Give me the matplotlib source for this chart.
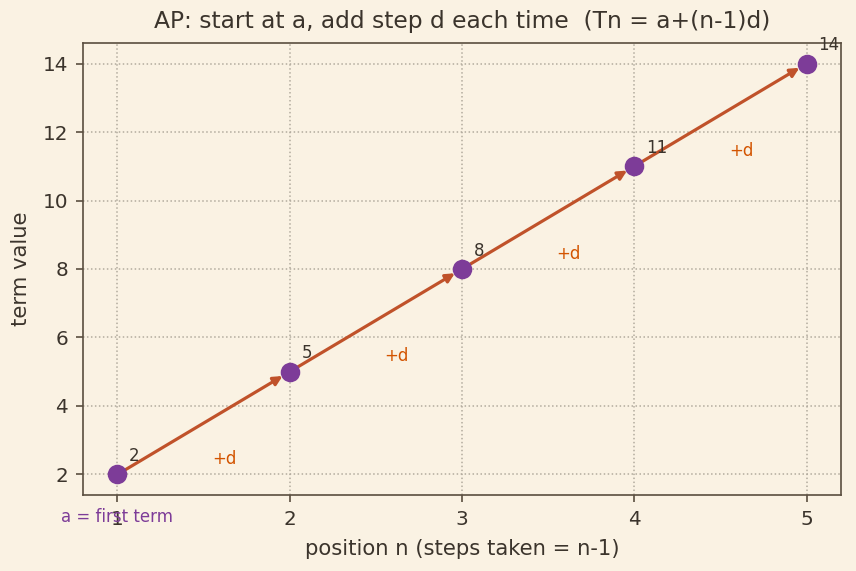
import matplotlib
matplotlib.use("Agg")
import matplotlib.pyplot as plt
import numpy as np

# AP data
a = 2
d = 3
n = [1, 2, 3, 4, 5]
terms = [2, 5, 8, 11, 14]

bg = "#faf2e3"
ink = "#3b342c"
purple = "#7d3c98"
orange = "#d35400"
line_col = "#c0522a"

plt.rcParams['font.family'] = ['DejaVu Sans']
fig, ax = plt.subplots(figsize=(856 / 120, 571 / 120), dpi=120)
fig.patch.set_facecolor(bg)
ax.set_facecolor(bg)

# arrows from each term to the next
for i in range(len(n) - 1):
    ax.annotate("", xy=(n[i + 1], terms[i + 1]), xytext=(n[i], terms[i]),
                arrowprops=dict(arrowstyle="-|>", color=line_col, lw=1.9,
                                mutation_scale=11, shrinkA=0, shrinkB=5),
                zorder=2)
    mx = (n[i] + n[i + 1]) / 2
    my = (terms[i] + terms[i + 1]) / 2
    ax.text(mx + 0.12, my - 1.05, "+d", color=orange, fontsize=10,
            ha="center", va="center")

ax.scatter(n, terms, s=115, color=purple, zorder=3)

for x, y in zip(n, terms):
    ax.annotate(str(y), (x, y), xytext=(7, 8), textcoords="offset points",
                fontsize=10, color=ink)

ax.text(n[0], a - 1.25, "a = first term", color=purple, fontsize=10,
        ha="center", va="center")

ax.set_xlim(0.8, 5.2)
ax.set_ylim(1.4, 14.6)
ax.set_xticks(n)
ax.set_yticks([2, 4, 6, 8, 10, 12, 14])
ax.grid(True, linestyle=":", color="#b0a99c", linewidth=0.9)
ax.set_axisbelow(True)

for s in ax.spines.values():
    s.set_color("#5a4e3f")
    s.set_linewidth(1.0)
ax.tick_params(colors=ink, labelsize=12, length=4, width=1.0, pad=5)
ax.tick_params(axis="both", color="#5a4e3f")

ax.set_title("AP: start at a, add step d each time  (Tn = a+(n-1)d)",
             fontsize=14, color=ink, pad=9)
ax.set_xlabel("position n (steps taken = n-1)", fontsize=12.7, color=ink,
              labelpad=6)
ax.set_ylabel("term value", fontsize=12.7, color=ink, labelpad=7)

fig.subplots_adjust(left=0.097, right=0.9825, top=0.9247, bottom=0.1331)
plt.savefig("out.png", dpi=120, facecolor=bg)
